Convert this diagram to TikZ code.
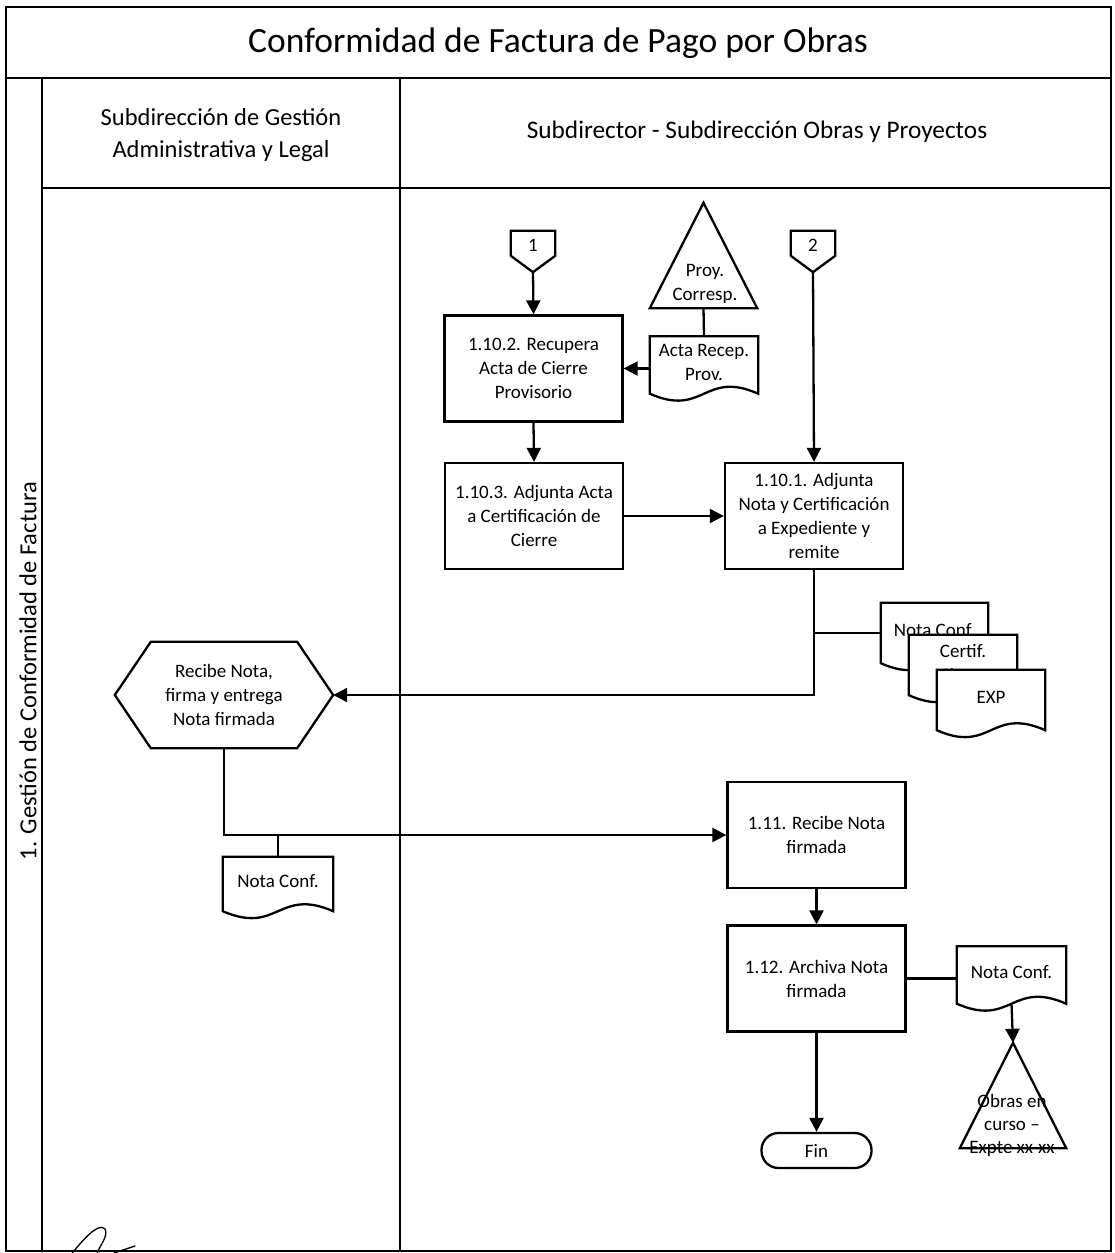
\documentclass[tikz,border=0pt]{standalone}
\usepackage{fontspec}
\setmainfont{Carlito}
\usetikzlibrary{arrows.meta,calc}

% wavy-bottom document symbol: name, centre, width, height, text
\newcommand{\docsh}[5]{%
  \node[minimum width=#3, minimum height=#4, inner sep=0pt, draw=none] (#1) at (#2) {};
  \draw[shp, fill=white] (#1.north west) -- (#1.north east) -- ($(#1.south east)+(0,-7)$)
    .. controls ($(#1.south)+(0,-31)$) and ($(#1.south)+(0,17)$) .. ($(#1.south west)+(0,-7)$) -- cycle;
  \node[txt] at ($(#1.center)+(0,-6)$) {#5};
}

\tikzset{
  x=1pt, y=-1pt,
  frame/.style={line width=2.6pt, line cap=rect},
  shp/.style={line width=2.3pt, line join=miter},
  txt/.style={font=\fontsize{19}{24}\selectfont, align=center, inner sep=0pt},
  proc/.style={draw, shp, fill=white, minimum width=178pt, minimum height=106pt,
               inner sep=0pt, align=center, font=\fontsize{19}{24}\selectfont},
  ghost/.style={draw=none, inner sep=0pt},
  arr/.style={line width=2.3pt, -{Triangle[length=14pt,width=14pt]}},
  lnk/.style={line width=2.3pt},
}

\begin{document}
\begin{tikzpicture}
\useasboundingbox (0,0) rectangle (1114,1253);
\fill[white] (0,0) rectangle (1114,1253);

% swimlane frame
\draw[frame] (6,7) rectangle (1111,1251);
\draw[frame] (6,78) -- (1111,78);
\draw[frame] (42,78) -- (42,1251);
\draw[frame] (42,188) -- (1111,188);
\draw[frame] (400,78) -- (400,1251);

\node[inner sep=0pt, font=\fontsize{35.5}{40}\selectfont] (title) at (558,43) {Conformidad de Factura de Pago por Obras};
\node[inner sep=0pt, align=center, font=\fontsize{24.5}{32}\selectfont] (hl) at (221,135) {Subdirección de Gestión\\Administrativa y Legal};
\node[inner sep=0pt, font=\fontsize{25.3}{30}\selectfont] (hr) at (757,132) {Subdirector - Subdirección Obras y Proyectos};
\node[inner sep=0pt, rotate=90, font=\fontsize{24.5}{30}\selectfont] (lane) at (28,671) {1. Gestión de Conformidad de Factura};

% off-page connectors
\node[ghost, minimum width=44pt, minimum height=41pt] (c1) at (533,251.5) {};
\draw[shp, fill=white] (c1.north west) -- (c1.north east) -- ($(c1.north east)+(0,25)$) -- (c1.south) -- ($(c1.north west)+(0,25)$) -- cycle;
\node[txt] at ($(c1.north)+(0,15)$) {1};
\node[ghost, minimum width=44pt, minimum height=41pt] (c2) at (813,251.5) {};
\draw[shp, fill=white] (c2.north west) -- (c2.north east) -- ($(c2.north east)+(0,25)$) -- (c2.south) -- ($(c2.north west)+(0,25)$) -- cycle;
\node[txt] at ($(c2.north)+(0,15)$) {2};

% file triangles
\node[ghost, minimum width=107pt, minimum height=105pt] (tri1) at (703.5,255.5) {};
\draw[shp, fill=white] (tri1.south west) -- (tri1.north) -- (tri1.south east) -- cycle;
\node[txt] at (705,284) {Proy.\\Corresp.};

\node[ghost, minimum width=106pt, minimum height=105pt] (tri2) at (1013,1095.5) {};
\draw[shp, fill=white] (tri2.south west) -- (tri2.north) -- (tri2.south east) -- cycle;
\node[txt, font=\fontsize{19}{23}\selectfont] at (1012,1125) {Obras en\\curso –\\Expte xx-xx};

% process boxes
\node[proc] (b1102) at (533.5,368.5) {1.10.2. Recupera\\Acta de Cierre\\Provisorio};
\node[proc] (b1103) at (534,516) {1.10.3. Adjunta Acta\\a Certificación de\\Cierre};
\node[proc] (b1101) at (814,516) {1.10.1. Adjunta\\Nota y Certificación\\a Expediente y\\remite};
\node[proc] (b111) at (816.5,835) {1.11. Recibe Nota\\firmada};
\node[proc] (b112) at (816.5,978.5) {1.12. Archiva Nota\\firmada};

% documents
\docsh{acta}{704,368.5}{108pt}{64pt}{Acta Recep.\\Prov.}
\docsh{nc1}{934.5,636.5}{107pt}{67pt}{Nota Conf.}
\docsh{cert}{963,668.5}{108pt}{67pt}{Certif.\\Cierre}
\docsh{exp}{991,703.5}{108pt}{67pt}{EXP}
\docsh{ncl}{278,887.5}{110pt}{61pt}{Nota Conf.}
\docsh{ncr}{1011.5,978.5}{109pt}{64pt}{Nota Conf.}

% hexagon
\node[ghost, minimum width=218pt, minimum height=106pt] (hex) at (224,695) {};
\draw[shp, fill=white] (hex.west) -- ($(hex.north west)+(36,0)$) -- ($(hex.north east)+(-36,0)$)
  -- (hex.east) -- ($(hex.south east)+(-36,0)$) -- ($(hex.south west)+(36,0)$) -- cycle;
\node[txt] at (hex.center) {Recibe Nota,\\firma y entrega\\Nota firmada};

% terminator
\node[draw, shp, rounded corners=17pt, minimum width=110pt, minimum height=35pt, inner sep=0pt,
      font=\fontsize{19}{22}\selectfont] (fin) at (816.5,1150.5) {Fin};

% connectors
\draw[arr] (c1.south) -- (b1102.north);
\draw[lnk] (tri1.south) -- (acta.north);
\draw[arr] (acta.west) -- (b1102.east);
\draw[arr] (b1102.south) -- (b1103.north);
\draw[arr] (b1103.east) -- (b1101.west);
\draw[arr] (c2.south) -- (b1101.north);
\draw[arr] (b1101.south) |- (hex.east);
\draw[lnk] (b1101.south |- 0,633) -- (nc1.west |- 0,633);
\draw[arr] (hex.south) |- (b111.west);
\draw[lnk] (ncl.north) -- (ncl.north |- b111.west);
\draw[arr] (b111.south) -- (b112.north);
\draw[lnk] (b112.east) -- (ncr.west);
\coordinate (ncrb) at ($(ncr.south)+(0,-7)$);
\draw[arr] (ncrb) -- (tri2.north);
\draw[arr] (b112.south) -- (fin.north);

% signature stroke
\draw[line width=1.3pt, line cap=round] (70,1256) .. controls (84,1238) and (99,1222) .. (105,1229)
  .. controls (109,1236) and (99,1246) .. (96,1256);
\draw[line width=1.3pt, line cap=round] (114,1253) -- (135,1246);
\end{tikzpicture}
\end{document}
